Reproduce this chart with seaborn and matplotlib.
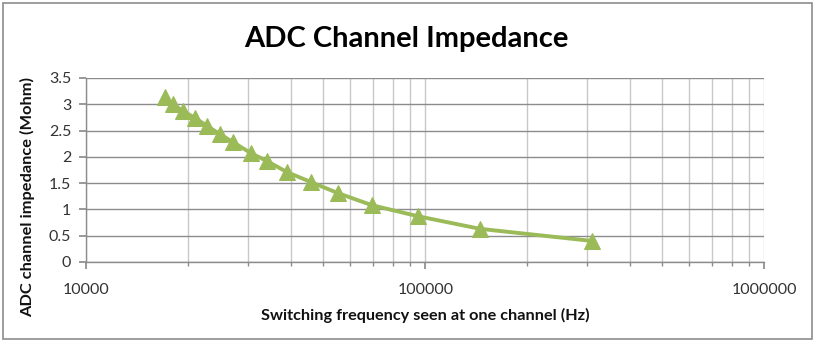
import matplotlib
matplotlib.use("Agg")
import matplotlib.pyplot as plt
import matplotlib.ticker as mticker
from matplotlib.patches import Rectangle
import seaborn as sns
import pandas as pd

freq_hz = [17040, 18000, 19270, 20900, 22670, 24770, 27050, 30580, 34080,
           39030, 45940, 55200, 69500, 95000, 145000, 310000]
impedance_mohm = [3.14, 3.00, 2.87, 2.74, 2.59, 2.43, 2.28, 2.07, 1.92,
                  1.71, 1.52, 1.31, 1.08, 0.87, 0.63, 0.40]
y_ticks = [0, 0.5, 1, 1.5, 2, 2.5, 3, 3.5]
y_tick_labels = ["0", "0.5", "1", "1.5", "2", "2.5", "3", "3.5"]
x_ticks = [10000, 100000, 1000000]
x_tick_labels = ["10000", "100000", "1000000"]

df = pd.DataFrame({"freq": freq_hz, "imp": impedance_mohm})

sns.set_theme(style="white")
plt.rcParams["font.family"] = ["Lato", "DejaVu Sans"]

fig = plt.figure(figsize=(8.15, 3.42), dpi=100)
ax = fig.add_axes([0.106, 0.234, 0.832, 0.538])

green = "#9BBB59"
sns.lineplot(data=df, x="freq", y="imp", ax=ax, color=green, linewidth=2.8,
             marker="^", markersize=11, markeredgecolor=green, markerfacecolor=green)

ax.set_xscale("log")
ax.set_xlim(10000, 1000000)
ax.set_ylim(0, 3.5)
ax.set_yticks(y_ticks)
ax.set_yticklabels(y_tick_labels)
ax.set_xticks(x_ticks)
ax.set_xticklabels(x_tick_labels)
ax.xaxis.set_minor_locator(mticker.LogLocator(base=10, subs=range(2, 10)))
ax.xaxis.set_minor_formatter(mticker.NullFormatter())

ax.grid(True, which="major", axis="y", color="#8c8c8c", linewidth=1)
ax.grid(True, which="both", axis="x", color="#c8c8c8", linewidth=1)
ax.set_axisbelow(True)

for s in ["top", "right"]:
    ax.spines[s].set_visible(False)
for s in ["left", "bottom"]:
    ax.spines[s].set_color("#8c8c8c")
    ax.spines[s].set_linewidth(1)

ax.tick_params(axis="y", which="major", direction="out", length=5, color="#8c8c8c",
               left=True, labelsize=11.5, labelcolor="#333333", pad=6)
ax.tick_params(axis="x", which="major", direction="out", length=5, color="#8c8c8c",
               bottom=True, labelsize=11.5, labelcolor="#333333", pad=10)
ax.tick_params(axis="x", which="minor", direction="out", length=3, color="#8c8c8c",
               bottom=True)

ax.set_xlabel("Switching frequency seen at one channel (Hz)", fontsize=11.7,
              fontweight="bold", color="#111111", labelpad=8)
ax.set_ylabel("ADC channel impedance (Mohm)", fontsize=11.8, fontweight="bold",
              color="#111111")
ax.yaxis.set_label_coords(-0.076, 0.353)

fig.text(0.498, 0.886, "ADC Channel Impedance", ha="center", va="center",
         fontsize=21, fontweight="bold", color="#000000")

fig.patches.append(Rectangle((0.004, 0.008), 0.992, 0.984, transform=fig.transFigure,
                             fill=False, edgecolor="#8c8c8c", linewidth=1.2))

fig.savefig("out.png", dpi=100)
